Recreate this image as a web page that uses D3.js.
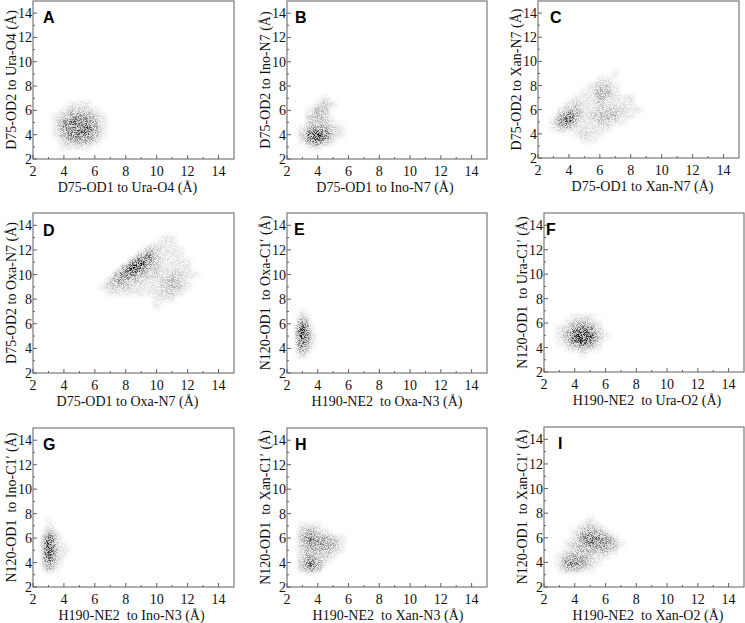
<!DOCTYPE html>
<html>
<head>
<meta charset="utf-8">
<script src="https://cdn.jsdelivr.net/npm/d3@7/dist/d3.min.js"></script>
<style>
  html, body { margin: 0; padding: 0; background: #fff; }
  svg { display: block; }
  text { white-space: pre; }
</style>
</head>
<body>
<svg id="chart" width="745" height="623"></svg>
<script>
// ---------------- DATA ----------------
const panelIds = ["A", "B", "C", "D", "E", "F", "G", "H", "I"];
const xTitles = [
  "D75-OD1 to Ura-O4 (Å)", "D75-OD1 to Ino-N7 (Å)", "D75-OD1 to Xan-N7 (Å)",
  "D75-OD1 to Oxa-N7 (Å)", "H190-NE2  to Oxa-N3 (Å)", "H190-NE2  to Ura-O2 (Å)",
  "H190-NE2  to Ino-N3 (Å)", "H190-NE2  to Xan-N3 (Å)", "H190-NE2  to Xan-O2 (Å)"
];
const yTitles = [
  "D75-OD2 to Ura-O4 (Å)", "D75-OD2 to Ino-N7 (Å)", "D75-OD2 to Xan-N7 (Å)",
  "D75-OD2 to Oxa-N7 (Å)", "N120-OD1  to Oxa-C1′ (Å)", "N120-OD1  to Ura-C1′ (Å)",
  "N120-OD1  to Ino-C1′ (Å)", "N120-OD1  to Xan-C1′ (Å)", "N120-OD1  to Xan-C1′ (Å)"
];
const axisDomain = [2, 15];
const majorTicks = [2, 4, 6, 8, 10, 12, 14];
const minorTicks = [3, 5, 7, 9, 11, 13];

// Point-density (0 = empty, 9 = darkest).
// Each panel: cell-centre x values, cell-centre y values (top row first), density rows.
const densA_x = [3.0, 3.5, 4.0, 4.5, 5.0, 5.5, 6.0, 6.5, 7.0];
const densA_y = [6.5, 6.0, 5.5, 5.0, 4.5, 4.0, 3.5, 3.0];
const densA = [
  [0, 0, 0, 1, 1, 1, 0, 0, 0],
  [0, 0, 1, 2, 2, 2, 1, 0, 0],
  [0, 1, 2, 4, 4, 4, 2, 1, 0],
  [0, 1, 4, 6, 5, 5, 3, 1, 0],
  [0, 1, 4, 6, 6, 7, 4, 1, 0],
  [0, 1, 3, 5, 6, 6, 3, 1, 0],
  [0, 0, 2, 3, 4, 3, 2, 0, 0],
  [0, 0, 1, 1, 1, 1, 0, 0, 0]
];
const densB_x = [3.0, 3.5, 4.0, 4.5, 5.0, 5.5];
const densB_y = [7.0, 6.5, 6.0, 5.5, 5.0, 4.5, 4.0, 3.5, 3.0];
const densB = [
  [0, 0, 0, 1, 0, 0],
  [0, 0, 1, 3, 1, 0],
  [0, 1, 3, 2, 0, 0],
  [0, 2, 3, 2, 0, 0],
  [0, 2, 2, 2, 1, 0],
  [1, 3, 4, 4, 2, 1],
  [2, 7, 8, 6, 2, 1],
  [1, 5, 7, 4, 1, 0],
  [0, 1, 1, 0, 0, 0]
];
const densC_x = [3.0, 3.5, 4.0, 4.5, 5.0, 5.5, 6.0, 6.5, 7.0, 7.5, 8.0, 8.5];
const densC_y = [9.0, 8.5, 8.0, 7.5, 7.0, 6.5, 6.0, 5.5, 5.0, 4.5, 4.0, 3.5];
const densC = [
  [0, 0, 0, 0, 0, 0, 0, 0, 1, 0, 0, 0],
  [0, 0, 0, 0, 0, 0, 1, 1, 0, 0, 0, 0],
  [0, 0, 0, 0, 0, 1, 2, 2, 1, 0, 0, 0],
  [0, 0, 0, 0, 1, 1, 3, 3, 1, 0, 0, 0],
  [0, 0, 0, 1, 1, 1, 3, 2, 1, 1, 1, 0],
  [0, 0, 1, 2, 1, 1, 2, 1, 1, 1, 1, 0],
  [0, 1, 3, 3, 1, 1, 2, 2, 2, 2, 1, 1],
  [0, 3, 6, 3, 1, 2, 3, 3, 3, 1, 1, 0],
  [1, 5, 7, 2, 1, 1, 2, 2, 1, 1, 0, 0],
  [1, 3, 2, 1, 1, 1, 1, 1, 0, 0, 0, 0],
  [0, 0, 0, 1, 2, 1, 1, 0, 0, 0, 0, 0],
  [0, 0, 0, 0, 1, 1, 0, 0, 0, 0, 0, 0]
];
const densD_x = [6.5, 7.0, 7.5, 8.0, 8.5, 9.0, 9.5, 10.0, 10.5, 11.0, 11.5, 12.0, 12.5];
const densD_y = [13.0, 12.5, 12.0, 11.5, 11.0, 10.5, 10.0, 9.5, 9.0, 8.5, 8.0, 7.5];
const densD = [
  [0, 0, 0, 0, 0, 0, 0, 0, 1, 1, 0, 0, 0],
  [0, 0, 0, 0, 0, 0, 0, 1, 1, 1, 0, 0, 0],
  [0, 0, 0, 0, 0, 0, 3, 2, 1, 1, 1, 0, 0],
  [0, 0, 0, 0, 0, 4, 5, 2, 1, 1, 1, 0, 0],
  [0, 0, 0, 0, 5, 8, 4, 2, 1, 1, 1, 1, 0],
  [0, 0, 0, 5, 9, 6, 3, 2, 1, 1, 1, 1, 0],
  [0, 0, 4, 6, 5, 3, 2, 2, 1, 2, 2, 1, 1],
  [0, 2, 4, 3, 2, 2, 1, 1, 2, 3, 2, 1, 0],
  [1, 2, 2, 2, 1, 1, 1, 1, 2, 3, 2, 1, 0],
  [0, 1, 1, 1, 1, 1, 1, 1, 2, 2, 1, 0, 0],
  [0, 0, 0, 0, 0, 0, 0, 1, 1, 1, 0, 0, 0],
  [0, 0, 0, 0, 0, 0, 0, 1, 0, 0, 0, 0, 0]
];
const densE_x = [2.75, 3.0, 3.25, 3.5, 3.75, 4.0];
const densE_y = [7.0, 6.5, 6.0, 5.5, 5.0, 4.5, 4.0, 3.5];
const densE = [
  [0, 1, 0, 0, 0, 0],
  [1, 3, 2, 0, 0, 0],
  [3, 6, 4, 1, 0, 0],
  [5, 9, 6, 2, 0, 0],
  [5, 9, 6, 2, 1, 0],
  [4, 8, 5, 2, 1, 0],
  [3, 5, 3, 1, 0, 0],
  [1, 2, 1, 0, 0, 0]
];
const densF_x = [3.0, 3.5, 4.0, 4.5, 5.0, 5.5, 6.0];
const densF_y = [6.5, 6.0, 5.5, 5.0, 4.5, 4.0, 3.5];
const densF = [
  [0, 0, 1, 1, 1, 0, 0],
  [0, 1, 2, 3, 2, 1, 0],
  [1, 2, 5, 6, 5, 2, 0],
  [1, 3, 7, 8, 7, 3, 1],
  [1, 2, 6, 8, 6, 2, 0],
  [0, 1, 2, 3, 2, 1, 0],
  [0, 0, 0, 1, 0, 0, 0]
];
const densG_x = [2.75, 3.0, 3.25, 3.5, 3.75, 4.0, 4.25];
const densG_y = [7.5, 7.0, 6.5, 6.0, 5.5, 5.0, 4.5, 4.0, 3.5];
const densG = [
  [0, 1, 0, 0, 0, 0, 0],
  [0, 1, 1, 0, 0, 0, 0],
  [1, 3, 2, 1, 0, 0, 0],
  [3, 7, 5, 2, 1, 0, 0],
  [4, 9, 6, 2, 1, 1, 0],
  [4, 9, 6, 3, 1, 1, 1],
  [4, 8, 5, 2, 1, 1, 0],
  [3, 6, 4, 2, 1, 0, 0],
  [1, 3, 2, 1, 0, 0, 0]
];
const densH_x = [3.0, 3.5, 4.0, 4.5, 5.0, 5.5];
const densH_y = [7.5, 7.0, 6.5, 6.0, 5.5, 5.0, 4.5, 4.0, 3.5];
const densH = [
  [0, 0, 0, 0, 0, 0],
  [1, 1, 1, 0, 0, 0],
  [2, 4, 2, 1, 0, 0],
  [3, 6, 4, 3, 2, 1],
  [2, 4, 4, 4, 3, 1],
  [2, 3, 3, 3, 2, 1],
  [2, 3, 2, 2, 1, 0],
  [3, 6, 4, 1, 0, 0],
  [2, 5, 3, 0, 0, 0]
];
const densI_x = [3.0, 3.5, 4.0, 4.5, 5.0, 5.5, 6.0, 6.5, 7.0];
const densI_y = [7.5, 7.0, 6.5, 6.0, 5.5, 5.0, 4.5, 4.0, 3.5];
const densI = [
  [0, 0, 0, 0, 1, 0, 0, 0, 0],
  [0, 0, 0, 1, 2, 1, 0, 0, 0],
  [0, 0, 1, 3, 4, 3, 1, 0, 0],
  [0, 0, 1, 4, 6, 5, 4, 2, 0],
  [0, 1, 2, 3, 5, 5, 5, 3, 1],
  [0, 1, 2, 3, 3, 3, 3, 2, 0],
  [1, 2, 3, 3, 2, 1, 1, 0, 0],
  [1, 5, 6, 4, 2, 1, 0, 0, 0],
  [1, 3, 3, 2, 1, 0, 0, 0, 0]
];
const densX = [densA_x, densB_x, densC_x, densD_x, densE_x, densF_x, densG_x, densH_x, densI_x];
const densY = [densA_y, densB_y, densC_y, densD_y, densE_y, densF_y, densG_y, densH_y, densI_y];
const densV = [densA, densB, densC, densD, densE, densF, densG, densH, densI];

// ---------------- LAYOUT ----------------
const frames = [
  {l: 33, r: 234, t: 1, b: 159, lx: 10, ly: 22, tx: -6},
  {l: 287, r: 487, t: 1, b: 159, lx: 8, ly: 22, tx: -2},
  {l: 538, r: 739, t: 1, b: 158, lx: 12, ly: 22, tx: 4},
  {l: 33, r: 234, t: 213, b: 373, lx: 10, ly: 23, tx: -6},
  {l: 287, r: 487, t: 213, b: 373, lx: 7, ly: 22, tx: 0},
  {l: 544, r: 744, t: 213, b: 372, lx: 2, ly: 22, tx: 3},
  {l: 33, r: 234, t: 428, b: 587, lx: 10, ly: 22, tx: -2},
  {l: 287, r: 487, t: 428, b: 587, lx: 8, ly: 22, tx: 1},
  {l: 544, r: 744, t: 427, b: 587, lx: 14, ly: 22, tx: 4}
];

const svg = d3.select("#chart");
const defs = svg.append("defs");

const filt = defs.append("filter").attr("id", "cloud")
  .attr("filterUnits", "userSpaceOnUse")
  .attr("x", 0).attr("y", 0).attr("width", 745).attr("height", 623);
filt.append("feGaussianBlur").attr("in", "SourceGraphic").attr("stdDeviation", 2.3).attr("result", "b");
filt.append("feTurbulence").attr("type", "fractalNoise").attr("baseFrequency", 1.6)
  .attr("numOctaves", 1).attr("seed", 5).attr("result", "n");
const ct = filt.append("feComponentTransfer").attr("in", "n").attr("result", "m");
ct.append("feFuncR").attr("type", "linear").attr("slope", 0).attr("intercept", 0);
ct.append("feFuncG").attr("type", "linear").attr("slope", 0).attr("intercept", 0);
ct.append("feFuncB").attr("type", "linear").attr("slope", 0).attr("intercept", 0);
ct.append("feFuncA").attr("type", "linear").attr("slope", 5).attr("intercept", -2.1);
filt.append("feComposite").attr("in", "b").attr("in2", "m").attr("operator", "arithmetic")
  .attr("k1", 1.1).attr("k2", 0.3).attr("k3", 0).attr("k4", 0);

const serif = "'Liberation Serif', 'Times New Roman', serif";

panelIds.forEach((id, i) => {
  const f = frames[i];
  const x = d3.scaleLinear().domain(axisDomain).range([f.l, f.r]);
  const y = d3.scaleLinear().domain(axisDomain).range([f.b, f.t]);
  const g = svg.append("g");

  defs.append("clipPath").attr("id", "clip" + id)
    .append("rect").attr("x", f.l).attr("y", f.t).attr("width", f.r - f.l).attr("height", f.b - f.t);

  // density cloud
  const cells = [];
  const xs = densX[i], ys = densY[i], vals = densV[i];
  const dx = xs[1] - xs[0], dy = ys[0] - ys[1];
  vals.forEach((row, ri) => row.forEach((v, ci) => {
    if (v > 0) cells.push({cx: xs[ci], cy: ys[ri], v});
  }));
  const cloud = g.append("g").attr("clip-path", `url(#clip${id})`)
    .append("g").attr("filter", "url(#cloud)");
  cloud.selectAll("rect").data(cells).join("rect")
    .attr("x", d => x(d.cx - dx / 2))
    .attr("y", d => y(d.cy + dy / 2))
    .attr("width", d => x(d.cx + dx / 2) - x(d.cx - dx / 2))
    .attr("height", d => y(d.cy - dy / 2) - y(d.cy + dy / 2))
    .attr("fill", "#000")
    .attr("fill-opacity", d => Math.min(1, d.v / 9 * 0.85));

  // frame
  g.append("rect").attr("x", f.l).attr("y", f.t).attr("width", f.r - f.l).attr("height", f.b - f.t)
    .attr("fill", "none").attr("stroke", "#7a7a7a").attr("stroke-width", 1.2);

  // ticks (inward)
  const tk = g.append("g").attr("stroke", "#606060").attr("stroke-width", 1);
  majorTicks.forEach(t => {
    tk.append("line").attr("x1", x(t)).attr("x2", x(t)).attr("y1", f.b).attr("y2", f.b - 4);
    tk.append("line").attr("x1", f.l).attr("x2", f.l + 4).attr("y1", y(t)).attr("y2", y(t));
  });
  minorTicks.forEach(t => {
    tk.append("line").attr("x1", x(t)).attr("x2", x(t)).attr("y1", f.b).attr("y2", f.b - 2);
    tk.append("line").attr("x1", f.l).attr("x2", f.l + 2).attr("y1", y(t)).attr("y2", y(t));
  });

  // tick labels
  g.selectAll(".xl").data(majorTicks).join("text")
    .attr("x", d => x(d)).attr("y", f.b + 17)
    .attr("text-anchor", "middle")
    .attr("font-family", serif).attr("font-size", 14).attr("fill", "#111")
    .text(d => d);
  g.selectAll(".yl").data(majorTicks).join("text")
    .attr("x", f.l - 1).attr("y", d => y(d) + 5)
    .attr("text-anchor", "end")
    .attr("font-family", serif).attr("font-size", 14).attr("fill", "#111")
    .text(d => d);

  // axis titles
  g.append("text")
    .attr("x", (f.l + f.r) / 2 + f.tx).attr("y", f.b + 33)
    .attr("text-anchor", "middle")
    .attr("font-family", serif).attr("font-size", 14).attr("fill", "#111")
    .text(xTitles[i]);
  g.append("text")
    .attr("transform", `translate(${f.l - 17},${(f.t + f.b) / 2}) rotate(-90)`)
    .attr("text-anchor", "middle")
    .attr("font-family", serif).attr("font-size", 14).attr("fill", "#111")
    .text(yTitles[i]);

  // panel letter
  g.append("text")
    .attr("x", f.l + f.lx).attr("y", f.t + f.ly)
    .attr("font-family", "'Liberation Sans', Arial, sans-serif")
    .attr("font-weight", "bold").attr("font-size", 16).attr("fill", "#000")
    .text(id);
});
</script>
</body>
</html>
